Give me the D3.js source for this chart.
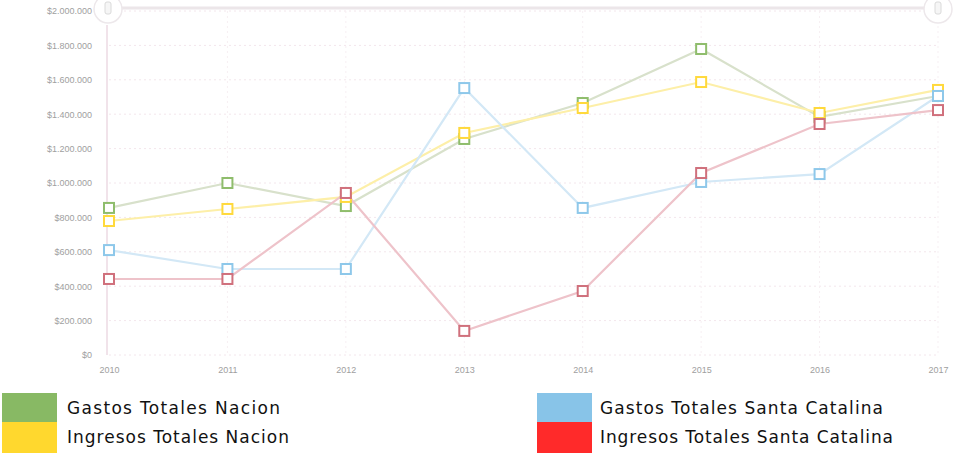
<!DOCTYPE html>
<html lang="es">
<head>
<meta charset="UTF-8">
<script src="https://cdn.jsdelivr.net/npm/d3@7"></script>
<style>
    body { margin: 0; background: #fff; }
    svg { display: block; }
    .tick text { font-family: "Liberation Sans", Arial, sans-serif; font-size: 9px; fill: #a0a0a0; }
    .legend text { font-family: "DejaVu Sans", sans-serif; font-size: 17px; fill: #111; }
</style>
</head>
<body>
<script>
    // ---------------- data ----------------
    const years = ["2010", "2011", "2012", "2013", "2014", "2015", "2016", "2017"];
    const seriesNames = ["Gastos Totales Nacion", "Ingresos Totales Nacion",
        "Gastos Totales Santa Catalina", "Ingresos Totales Santa Catalina"];

    const gastosNacion = [855000, 1000000, 866000, 1256000, 1465000, 1779000, 1384000, 1506000];
    const ingresosNacion = [779000, 849000, 919000, 1291000, 1436000, 1587000, 1407000, 1541000];
    const gastosSantaCatalina = [610000, 500000, 500000, 1552000, 855000, 1006000, 1052000, 1506000];
    const ingresosSantaCatalina = [442000, 442000, 942000, 140000, 372000, 1058000, 1343000, 1424000];

    const yTicks = [0, 200000, 400000, 600000, 800000, 1000000, 1200000, 1400000, 1600000, 1800000, 2000000];

    // colors: legend swatch, line, marker
    const legendColors = ["#88b964", "#ffd82e", "#88c4e8", "#ff2a2a"];
    const lineColors = ["#d8e1cb", "#fdefa8", "#d3e8f6", "#eec3ca"];
    const markerColors = ["#8fbd6c", "#ffd93c", "#8ec8ea", "#d0707c"];

    const allSeries = [gastosNacion, ingresosNacion, gastosSantaCatalina, ingresosSantaCatalina];

    // ---------------- layout ----------------
    const width = 953, height = 453;
    const plot = { left: 109, right: 938, top: 11, bottom: 355 };

    const svg = d3.select("body").append("svg")
        .attr("width", width)
        .attr("height", height);

    const x = d3.scalePoint().domain(years).range([plot.left, plot.right]);
    const y = d3.scaleLinear().domain([0, 2000000]).range([plot.bottom, plot.top]);

    const fmt = v => "$" + d3.format(",")(v).replace(/,/g, ".");

    // grid
    svg.append("g").selectAll("line.h")
        .data(yTicks).enter().append("line")
        .attr("x1", plot.left).attr("x2", plot.right)
        .attr("y1", d => y(d)).attr("y2", d => y(d))
        .attr("stroke", "#f3e6ec").attr("stroke-dasharray", "2,3");

    svg.append("g").selectAll("line.v")
        .data(years.slice(1)).enter().append("line")
        .attr("x1", d => x(d)).attr("x2", d => x(d))
        .attr("y1", plot.top).attr("y2", plot.bottom)
        .attr("stroke", "#f7eff3").attr("stroke-dasharray", "2,3");

    // y axis
    const yAxis = svg.append("g")
        .attr("transform", `translate(${plot.left - 14},0)`)
        .call(d3.axisLeft(y).tickValues(yTicks).tickFormat(fmt).tickSize(0));
    yAxis.select(".domain").remove();

    svg.append("line")
        .attr("x1", plot.left - 2).attr("x2", plot.left - 2)
        .attr("y1", plot.top + 14).attr("y2", plot.bottom)
        .attr("stroke", "#f1e3ea").attr("stroke-width", 2);

    // x axis
    const xAxis = svg.append("g")
        .attr("transform", `translate(0,${plot.bottom + 9})`)
        .call(d3.axisBottom(x).tickSize(0));
    xAxis.select(".domain").remove();

    // top range slider
    svg.append("line")
        .attr("x1", plot.left).attr("x2", plot.right)
        .attr("y1", 8).attr("y2", 8)
        .attr("stroke", "#ece6e9").attr("stroke-width", 3);

    [plot.left - 1, plot.right].forEach(cx => {
        svg.append("circle")
            .attr("cx", cx).attr("cy", 9).attr("r", 14)
            .attr("fill", "#fff").attr("stroke", "#ede8eb").attr("stroke-width", 1.5);
        svg.append("rect")
            .attr("x", cx - 3).attr("y", 2).attr("width", 6).attr("height", 12).attr("rx", 2)
            .attr("fill", "#f6f6f6").attr("stroke", "#dadada");
    });

    // lines
    const line = d3.line()
        .x((d, i) => x(years[i]))
        .y(d => y(d));

    allSeries.forEach((s, k) => {
        svg.append("path")
            .datum(s)
            .attr("d", line)
            .attr("fill", "none")
            .attr("stroke", lineColors[k])
            .attr("stroke-width", 2.2);
    });

    allSeries.forEach((s, k) => {
        svg.append("g").selectAll("rect")
            .data(s).enter().append("rect")
            .attr("x", (d, i) => x(years[i]) - 5)
            .attr("y", d => y(d) - 5)
            .attr("width", 10).attr("height", 10)
            .attr("fill", "#fff")
            .attr("stroke", markerColors[k])
            .attr("stroke-width", 2);
    });

    // legend
    const legendPos = [
        { sx: 2, tx: 67, y: 393, w: 213 },
        { sx: 2, tx: 67, y: 422, w: 222 },
        { sx: 537, tx: 600, y: 393, w: 283 },
        { sx: 537, tx: 600, y: 422, w: 293 }
    ];
    const legend = svg.append("g").attr("class", "legend");
    seriesNames.forEach((name, k) => {
        const p = legendPos[k];
        legend.append("rect")
            .attr("x", p.sx).attr("y", p.y)
            .attr("width", 55).attr("height", k % 2 === 0 ? 29 : 31)
            .attr("fill", legendColors[k]);
        legend.append("text")
            .attr("x", p.tx).attr("y", p.y + 21)
            .attr("textLength", p.w)
            .attr("lengthAdjust", "spacing")
            .text(name);
    });
</script>
</body>
</html>
